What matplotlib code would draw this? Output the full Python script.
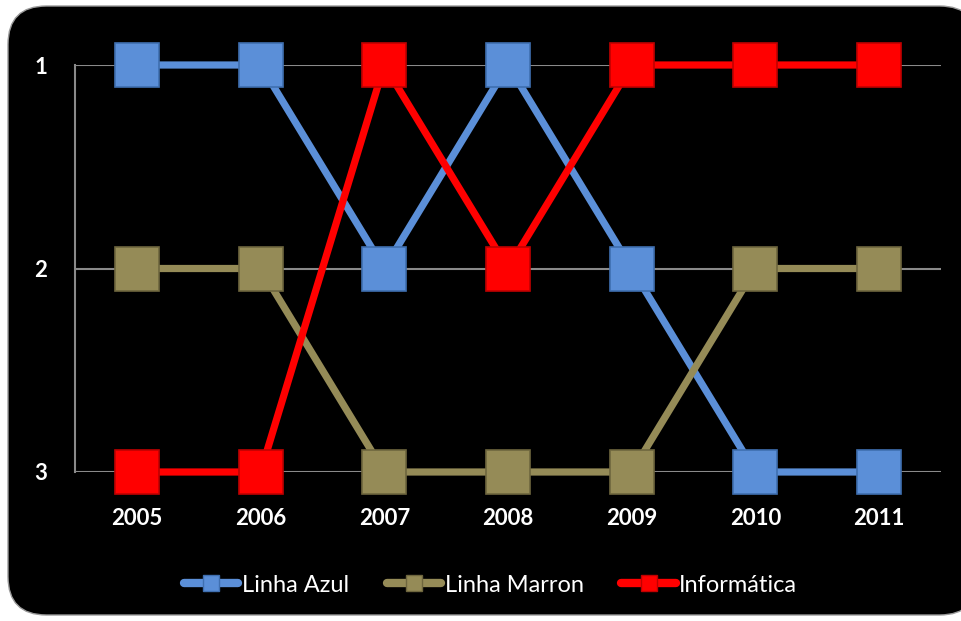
import matplotlib.pyplot as plt
from matplotlib.patches import FancyBboxPatch
from matplotlib.lines import Line2D

plt.rcParams['font.family'] = ['Lato', 'DejaVu Sans']

anos = ['2005', '2006', '2007', '2008', '2009', '2010', '2011']
linha_azul = [1, 1, 2, 1, 2, 3, 3]
linha_marron = [2, 2, 3, 3, 3, 2, 2]
informatica = [3, 3, 1, 2, 1, 1, 1]
series_names = ['Linha Azul', 'Linha Marron', 'Informática']
cores = ['#5B8FD8', '#958B57', '#FF0000']
bordas = ['#3F6FB0', '#6E663E', '#C00000']

fig = plt.figure(figsize=(9.62, 6.21), dpi=100)
fig.patch.set_facecolor('white')

# black rounded panel behind everything
panel = FancyBboxPatch((8 / 962, 6 / 621), 970 / 962, 609 / 621,
                       boxstyle='round,pad=0,rounding_size=0.04',
                       transform=fig.transFigure, facecolor='black',
                       edgecolor='#9a9a9a', linewidth=1.0, zorder=-10,
                       mutation_aspect=962 / 621)
fig.patches.append(panel)

ax = fig.add_axes([75 / 962, 1 - 472 / 621, 866 / 962, 407 / 621])
ax.set_facecolor('none')
ax.set_zorder(1)

x = list(range(len(anos)))
for vals, nome, c, b in zip([linha_azul, linha_marron, informatica], series_names, cores, bordas):
    ax.plot(x, vals, color=c, linewidth=5.2, solid_capstyle='butt', zorder=3, clip_on=False)
    ax.plot(x, vals, linestyle='none', marker='s', markersize=32, clip_on=False,
            markerfacecolor=c, markeredgecolor=b, markeredgewidth=1.2, zorder=4)

ax.set_xlim(-0.5, len(anos) - 0.5)
ax.set_ylim(3, 1)
ax.set_yticks([1, 2, 3])
ax.set_yticklabels(['1', '2', '3'])
ax.set_xticks(x)
ax.set_xticklabels(anos)
ax.yaxis.grid(True, color='#8a8a8a', linewidth=1.5, zorder=1)
ax.set_axisbelow(True)
for s in ['top', 'right', 'bottom']:
    ax.spines[s].set_visible(False)
ax.spines['left'].set_color('#8a8a8a')
ax.spines['left'].set_linewidth(1.5)
ax.tick_params(axis='both', length=0, colors='white', labelsize=16)
ax.tick_params(axis='y', pad=20)
ax.tick_params(axis='x', pad=26)
for lbl in ax.get_xticklabels() + ax.get_yticklabels():
    lbl.set_fontweight('bold')

handles = [Line2D([0], [0], color=c, linewidth=6, marker='s', markersize=12,
                  markerfacecolor=c, markeredgecolor=b, solid_capstyle='round')
           for c, b in zip(cores, bordas)]
leg = fig.legend(handles, series_names, loc='center', bbox_to_anchor=(0.51, 1 - 585 / 621),
                 ncol=3, frameon=False, fontsize=17, handlelength=2.3,
                 handletextpad=0.15, columnspacing=1.6, labelcolor='white')

fig.savefig('out.png', dpi=100, facecolor='white')
